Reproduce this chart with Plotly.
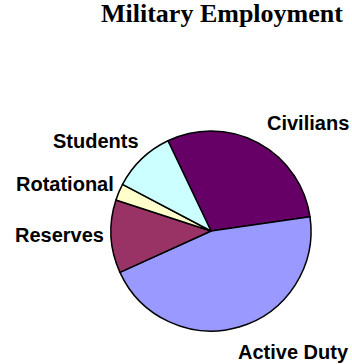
import plotly.graph_objects as go

labels = ["Civilians", "Active Duty", "Reserves", "Rotational", "Students"]
values = [29.8, 45.5, 11.8, 2.7, 10.2]
colors = ["#660066", "#9999FF", "#993366", "#FFFFCC", "#CCFFFF"]

W, H = 352, 364
# label placement (pixel centres) in the picture
label_px = {
    "Civilians": (308, 123),
    "Active Duty": (293, 352),
    "Reserves": (60, 235),
    "Rotational": (65, 184),
    "Students": (96, 141),
}

cx, cy, r = 211, 231, 100

fig = go.Figure(go.Pie(
    labels=labels,
    values=values,
    sort=False,
    direction="clockwise",
    rotation=-25.5,
    textinfo="none",
    hoverinfo="label+percent",
    marker=dict(colors=colors, line=dict(color="#000000", width=1.5)),
    domain=dict(x=[(cx - r) / W, (cx + r) / W], y=[1 - (cy + r) / H, 1 - (cy - r) / H]),
    showlegend=False,
))

annotations = [dict(
    text="<b>Military Employment</b>", x=222 / W, y=1 - 14 / H, xref="paper", yref="paper",
    xanchor="center", yanchor="middle", showarrow=False,
    font=dict(family="Liberation Serif, Times New Roman, serif", size=26, color="#000000"),
)]
for lab in labels:
    px, py = label_px[lab]
    annotations.append(dict(
        text="<b>%s</b>" % lab, x=px / W, y=1 - py / H, xref="paper", yref="paper",
        xanchor="center", yanchor="middle", showarrow=False,
        font=dict(family="Liberation Sans, Arial, sans-serif", size=20, color="#000000"),
    ))

fig.update_layout(
    width=W, height=H,
    margin=dict(l=0, r=0, t=0, b=0),
    paper_bgcolor="#FFFFFF",
    plot_bgcolor="#FFFFFF",
    annotations=annotations,
)

fig.write_html("out.html")
